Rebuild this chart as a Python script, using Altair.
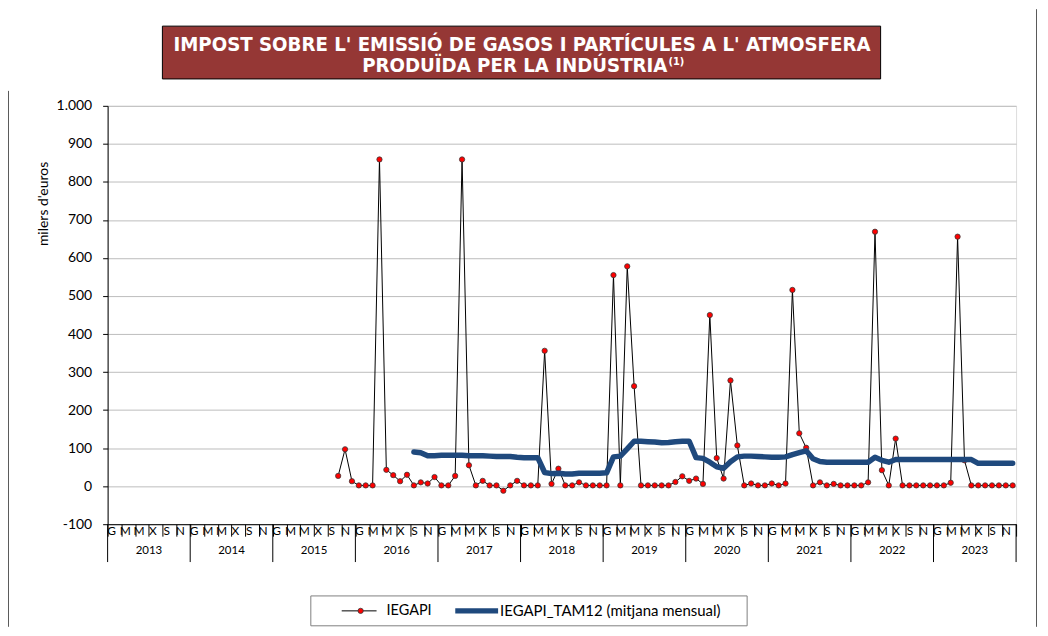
import json
import altair as alt
import pandas as pd

# ---------------- data ----------------
years = list(range(2013, 2024))
month_letters = ["G", "M", "M", "X", "S", "N"]
y_ticks = list(range(-100, 1001, 100))

iegapi_start = (2015, 10)
iegapi_values = [
    27, 97, 13,                                          # 2015 Oct-Dec
    2, 2, 2, 859, 43, 29, 13, 30, 2, 10, 7, 24,          # 2016
    2, 2, 27, 859, 55, 2, 14, 2, 2, -12, 2, 14,          # 2017
    2, 2, 2, 356, 6, 46, 2, 2, 10, 2, 2, 2,              # 2018
    2, 555, 2, 578, 263, 2, 2, 2, 2, 2, 11, 26,          # 2019
    14, 20, 6, 450, 74, 20, 278, 107, 2, 7, 2, 2,        # 2020
    7, 2, 7, 516, 139, 101, 2, 10, 2, 6, 2, 2,           # 2021
    2, 2, 10, 669, 42, 2, 125, 2, 2, 2, 2, 2,            # 2022
    2, 2, 9, 656, 68, 2, 2, 2, 2, 2, 2, 2,               # 2023
]

tam_start = (2016, 9)
tam_values = [
    90, 88, 80, 80,                                      # 2016 Sep-Dec
    81, 81, 81, 81, 80, 80, 80, 79, 78, 78, 78, 76,      # 2017
    75, 75, 75, 36, 33, 34, 32, 32, 34, 34, 34, 34,      # 2018
    35, 77, 79, 98, 118, 118, 117, 116, 114, 115, 117, 118,  # 2019
    118, 75, 73, 63, 51, 47, 64, 77, 79, 79, 78, 77,     # 2020
    76, 76, 77, 83, 88, 93, 72, 65, 63, 63, 63, 63,      # 2021
    63, 63, 63, 76, 68, 63, 70, 70, 70, 70, 70, 70,      # 2022
    70, 70, 70, 70, 70, 70, 60, 60, 60, 60, 60, 60,      # 2023
]

series_names = ["IEGAPI", "IEGAPI_TAM12 (mitjana mensual)"]
title_lines = ["IMPOST SOBRE L' EMISSIÓ DE GASOS I PARTÍCULES A L' ATMOSFERA",
               "PRODUÏDA PER LA INDÚSTRIA"]
title_note = "(1)"
y_title = "milers d'euros"

# ---------------- layout ----------------
W, H = 912, 420
FONT = "Lato"
TITLE_FONT = "Liberation Sans Narrow, DejaVu Sans Condensed, sans-serif"
n_months = len(years) * 12
first_year = years[0]


def series_frame(start, values):
    y0, m0 = start
    base = (y0 - first_year) * 12 + (m0 - 1)
    return pd.DataFrame({"t": [base + k + 0.5 for k in range(len(values))], "v": values})


df_i = series_frame(iegapi_start, iegapi_values)
df_t = series_frame(tam_start, tam_values)
df_year_sep = pd.DataFrame({"t": [12 * j for j in range(len(years) + 1)]})
df_year_lab = pd.DataFrame({"t": [12 * j + 6 for j in range(len(years))],
                            "label": [str(y) for y in years]})
one = pd.DataFrame({"a": [0]})

xscale = alt.Scale(domain=[0, n_months], nice=False, zero=False)
yscale = alt.Scale(domain=[y_ticks[0], y_ticks[-1]], nice=False, zero=False)

month_axis = alt.Axis(
    values=list(range(0, n_months + 1, 2)),
    labelExpr=f"datum.value < {n_months} ? {json.dumps(month_letters)}[(datum.value / 2) % 6] : ''",
    labelOffset=W / n_months / 2,
    labelPadding=-6,
    labelBaseline="middle",
    labelAlign="center",
    labelFont=FONT, labelFontSize=12, labelColor="black",
    labelFlush=False, labelOverlap=False, labelBound=False,
    tickSize=12, tickColor="black", tickWidth=1,
    domainColor="black", domainWidth=1,
    grid=False, title=None,
)
y_axis = alt.Axis(
    values=y_ticks,
    labelExpr="datum.value >= 1000 ? format(floor(datum.value / 1000), 'd') + '.' + format(datum.value % 1000, '03d') : toString(datum.value)",
    labelFont=FONT, labelFontSize=14, labelColor="black", labelPadding=11,
    tickSize=5, tickColor="black", domainColor="black",
    grid=True, gridColor="#BDBDBD", gridWidth=1,
    title=y_title, titleFont=FONT, titleFontSize=14, titleFontWeight="normal",
    titleColor="black", titleAngle=-90, titleX=-64, titleY=98,
    titleAlign="center", titleBaseline="middle",
)

x_enc = alt.X("t:Q", scale=xscale, axis=month_axis)
y_enc = alt.Y("v:Q", scale=yscale, axis=y_axis)

line_i = alt.Chart(df_i).mark_line(color="black", strokeWidth=1).encode(x=x_enc, y=y_enc)
pts_i = alt.Chart(df_i).mark_circle(color="#FF0000", opacity=1, size=28,
                                    stroke="#3A3A3A", strokeWidth=0.8).encode(x=x_enc, y=y_enc)
line_t = alt.Chart(df_t).mark_line(color="#1F497D", strokeWidth=5.5,
                                   strokeCap="round", strokeJoin="round").encode(x=x_enc, y=y_enc)

year_sep = alt.Chart(df_year_sep).mark_rule(color="black", strokeWidth=1).encode(
    x=x_enc, y=alt.value(H), y2=alt.value(H + 38))
year_lab = alt.Chart(df_year_lab).mark_text(font=FONT, fontSize=11.5, color="black",
                                            baseline="middle").encode(
    x=x_enc, y=alt.value(H + 27), text="label:N")

# chart-area frame (left and right edges)
frame_l = alt.Chart(one).mark_rule(color="#595959", strokeWidth=1).encode(
    x=alt.value(-99.5), y=alt.value(-15), y2=alt.value(H + 103))
frame_r = alt.Chart(one).mark_rule(color="#595959", strokeWidth=1).encode(
    x=alt.value(932.5), y=alt.value(-97), y2=alt.value(H + 103))

# title box
title_box = alt.Chart(one).mark_rect(fill="#953735", stroke="black", strokeWidth=1).encode(
    x=alt.value(55), x2=alt.value(776), y=alt.value(-80), y2=alt.value(-27))
title_t1 = alt.Chart(one).mark_text(text=title_lines[0], font=TITLE_FONT, fontSize=20.3,
                                    fontWeight="bold", color="white", align="center",
                                    baseline="alphabetic").encode(
    x=alt.value(416), y=alt.value(-55))
title_t2 = alt.Chart(one).mark_text(text=title_lines[1], font=TITLE_FONT, fontSize=20.3,
                                    fontWeight="bold", color="white", align="right",
                                    baseline="alphabetic").encode(
    x=alt.value(562), y=alt.value(-34))
title_t3 = alt.Chart(one).mark_text(text=title_note, font=TITLE_FONT, fontSize=11,
                                    fontWeight="bold", color="white", align="left",
                                    baseline="alphabetic").encode(
    x=alt.value(563), y=alt.value(-41))

# legend
leg_box = alt.Chart(one).mark_rect(fill="white", stroke="#7F7F7F", strokeWidth=1).encode(
    x=alt.value(204), x2=alt.value(642), y=alt.value(492), y2=alt.value(522))
leg_l1 = alt.Chart(one).mark_rule(color="black", strokeWidth=1).encode(
    x=alt.value(235), x2=alt.value(270), y=alt.value(507))
leg_p1 = alt.Chart(one).mark_circle(color="#FF0000", opacity=1, size=28,
                                    stroke="#3A3A3A", strokeWidth=0.8).encode(
    x=alt.value(254), y=alt.value(507))
leg_t1 = alt.Chart(one).mark_text(text=series_names[0], font=FONT, fontSize=14.5, color="black",
                                  align="left", baseline="middle").encode(
    x=alt.value(280), y=alt.value(507))
leg_l2 = alt.Chart(one).mark_rule(color="#1F497D", strokeWidth=5.5).encode(
    x=alt.value(349), x2=alt.value(392), y=alt.value(507))
leg_t2 = alt.Chart(one).mark_text(text=series_names[1], font=FONT, fontSize=15, color="black",
                                  align="left", baseline="middle").encode(
    x=alt.value(394), y=alt.value(507))

chart = alt.layer(
    line_i, pts_i, line_t, year_sep, year_lab, frame_l, frame_r,
    title_box, title_t1, title_t2, title_t3,
    leg_box, leg_l1, leg_p1, leg_t1, leg_l2, leg_t2,
).properties(
    width=W, height=H,
    padding={"left": 100, "top": 97, "right": 24, "bottom": 103},
    autosize=alt.AutoSizeParams(type="none"),
).configure_view(
    stroke="#8C8C8C", strokeWidth=1.5
).configure(background="white")

chart.save("out.html", embed_options={"renderer": "svg", "actions": False})
